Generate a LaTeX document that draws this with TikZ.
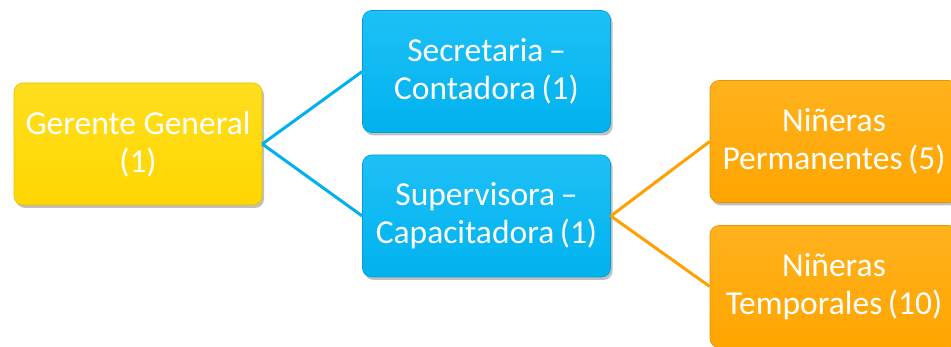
\documentclass[tikz,border=0pt]{standalone}
\usepackage{fontspec}
\setmainfont{Carlito}
\usetikzlibrary{shadows}
\definecolor{gold}{RGB}{255,214,0}
\definecolor{goldtop}{RGB}{255,222,30}
\definecolor{sky}{RGB}{0,178,238}
\definecolor{skytop}{RGB}{30,192,246}
\definecolor{orng}{RGB}{255,165,0}
\definecolor{orngtop}{RGB}{255,178,30}
\definecolor{lineblue}{RGB}{0,176,240}
\definecolor{lineorange}{RGB}{255,160,0}
\tikzset{
  orgbox/.style={rectangle, rounded corners=9pt, minimum width=248pt, minimum height=122pt,
    align=center, text=white, inner sep=0pt,
    font=\fontsize{33.5}{38}\selectfont,
    drop shadow={shadow xshift=2pt, shadow yshift=-3pt, opacity=0.35, fill=black!70}},
  yellowbox/.style={orgbox, top color=goldtop, bottom color=gold, draw=gold!90!black, line width=0.6pt},
  bluebox/.style={orgbox, top color=skytop, bottom color=sky, draw=sky!90!black, line width=0.6pt},
  orangebox/.style={orgbox, top color=orngtop, bottom color=orng, draw=orng!90!black, line width=0.6pt},
  blueline/.style={draw=lineblue, line width=3pt},
  orangeline/.style={draw=lineorange, line width=3pt}
}
\begin{document}
\begin{tikzpicture}[x=1pt,y=-1pt]
\clip (0,0) rectangle (951,347);
\fill[white] (0,0) rectangle (951,347);
\node[yellowbox] (gg) at (138,144) {Gerente General\\(1)};
\node[bluebox] (sc) at (486.5,71.5) {Secretaria\,--\\Contadora\,(1)};
\node[bluebox] (sv) at (486.5,216) {Supervisora\,--\\Capacitadora\,(1)};
\node[orangebox] (np) at (834,141.5) {Niñeras\\Permanentes\,(5)};
\node[orangebox] (nt) at (834,286.5) {Niñeras\\Temporales\,(10)};
\draw[blueline] (gg.east) -- (sc.west);
\draw[blueline] (gg.east) -- (sv.west);
\draw[orangeline] (sv.east) -- (np.west);
\draw[orangeline] (sv.east) -- (nt.west);
\end{tikzpicture}
\end{document}
